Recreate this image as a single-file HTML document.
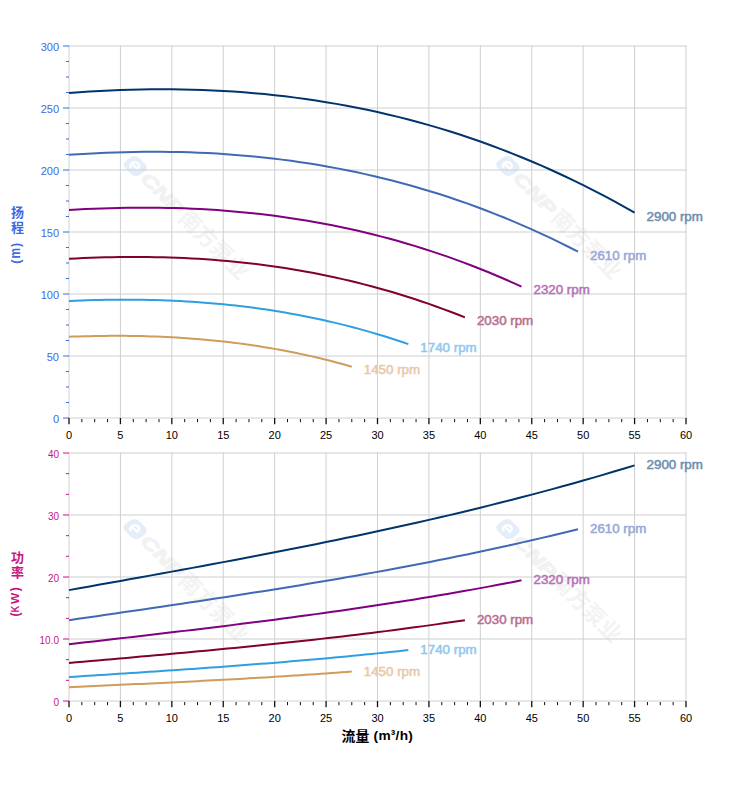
<!DOCTYPE html>
<html><head><meta charset="utf-8"><title>Pump curves</title>
<style>html,body{margin:0;padding:0;background:#fff;}body{width:752px;height:797px;overflow:hidden;}svg{display:block;}text{font-family:"Liberation Sans","Noto Sans CJK SC",sans-serif;}</style></head><body>
<svg width="752" height="797" viewBox="0 0 752 797">
<rect width="752" height="797" fill="#fff"/>
<g transform="translate(135.2 166.2) rotate(45)"><g transform="skewX(-10)"><rect x="-10" y="-8.5" width="20" height="17" rx="5.5" fill="#e4eef9"/><path d="M-4.5 0.5H3.5A4 4 0 1 0 -0.5 4.2" fill="none" stroke="#fff" stroke-width="2.2"/></g><text x="12.5" y="6.2" font-size="17.5" font-weight="bold" font-style="italic" fill="#f2f2f2" stroke="#f2f2f2" stroke-width="1.1" textLength="52" lengthAdjust="spacingAndGlyphs">CNP</text><text x="67 89 111 133" y="7.5" font-size="22" font-weight="bold" fill="#f3f3f3">南方泵业</text></g>
<g transform="translate(507.9 166) rotate(45)"><g transform="skewX(-10)"><rect x="-10" y="-8.5" width="20" height="17" rx="5.5" fill="#e4eef9"/><path d="M-4.5 0.5H3.5A4 4 0 1 0 -0.5 4.2" fill="none" stroke="#fff" stroke-width="2.2"/></g><text x="12.5" y="6.2" font-size="17.5" font-weight="bold" font-style="italic" fill="#f2f2f2" stroke="#f2f2f2" stroke-width="1.1" textLength="52" lengthAdjust="spacingAndGlyphs">CNP</text><text x="67 89 111 133" y="7.5" font-size="22" font-weight="bold" fill="#f3f3f3">南方泵业</text></g>
<g stroke="#cfcfcf" stroke-width="1" fill="none"><path d="M69 45.5V418.5"/><path d="M120.42 45.5V418.5"/><path d="M171.83 45.5V418.5"/><path d="M223.25 45.5V418.5"/><path d="M274.67 45.5V418.5"/><path d="M326.08 45.5V418.5"/><path d="M377.5 45.5V418.5"/><path d="M428.92 45.5V418.5"/><path d="M480.33 45.5V418.5"/><path d="M531.75 45.5V418.5"/><path d="M583.17 45.5V418.5"/><path d="M634.58 45.5V418.5"/><path d="M686 45.5V418.5"/><path d="M68.5 418H686.5"/><path d="M68.5 356H686.5"/><path d="M68.5 294H686.5"/><path d="M68.5 232H686.5"/><path d="M68.5 170H686.5"/><path d="M68.5 108H686.5"/><path d="M68.5 46H686.5"/></g>
<g stroke="#4169e1" stroke-width="1"><path d="M63 418H69"/><path d="M66 402.5H69"/><path d="M66 387H69"/><path d="M66 371.5H69"/><path d="M63 356H69"/><path d="M66 340.5H69"/><path d="M66 325H69"/><path d="M66 309.5H69"/><path d="M63 294H69"/><path d="M66 278.5H69"/><path d="M66 263H69"/><path d="M66 247.5H69"/><path d="M63 232H69"/><path d="M66 216.5H69"/><path d="M66 201H69"/><path d="M66 185.5H69"/><path d="M63 170H69"/><path d="M66 154.5H69"/><path d="M66 139H69"/><path d="M66 123.5H69"/><path d="M63 108H69"/><path d="M66 92.5H69"/><path d="M66 77H69"/><path d="M66 61.5H69"/><path d="M63 46H69"/></g>
<text x="59" y="422.5" text-anchor="end" font-size="11" fill="#4169e1">0</text>
<text x="59" y="360.5" text-anchor="end" font-size="11" fill="#4169e1">50</text>
<text x="59" y="298.5" text-anchor="end" font-size="11" fill="#4169e1">100</text>
<text x="59" y="236.5" text-anchor="end" font-size="11" fill="#4169e1">150</text>
<text x="59" y="174.5" text-anchor="end" font-size="11" fill="#4169e1">200</text>
<text x="59" y="112.5" text-anchor="end" font-size="11" fill="#4169e1">250</text>
<text x="59" y="50.5" text-anchor="end" font-size="11" fill="#4169e1">300</text>
<g stroke="#111" stroke-width="1"><path d="M69 418V424.2" stroke-width="1.3"/><path d="M81.85 419V422.2"/><path d="M94.71 419V422.2"/><path d="M107.56 419V422.2"/><path d="M120.42 418V424.2" stroke-width="1.3"/><path d="M133.27 419V422.2"/><path d="M146.12 419V422.2"/><path d="M158.98 419V422.2"/><path d="M171.83 418V424.2" stroke-width="1.3"/><path d="M184.69 419V422.2"/><path d="M197.54 419V422.2"/><path d="M210.4 419V422.2"/><path d="M223.25 418V424.2" stroke-width="1.3"/><path d="M236.1 419V422.2"/><path d="M248.96 419V422.2"/><path d="M261.81 419V422.2"/><path d="M274.67 418V424.2" stroke-width="1.3"/><path d="M287.52 419V422.2"/><path d="M300.38 419V422.2"/><path d="M313.23 419V422.2"/><path d="M326.08 418V424.2" stroke-width="1.3"/><path d="M338.94 419V422.2"/><path d="M351.79 419V422.2"/><path d="M364.65 419V422.2"/><path d="M377.5 418V424.2" stroke-width="1.3"/><path d="M390.35 419V422.2"/><path d="M403.21 419V422.2"/><path d="M416.06 419V422.2"/><path d="M428.92 418V424.2" stroke-width="1.3"/><path d="M441.77 419V422.2"/><path d="M454.62 419V422.2"/><path d="M467.48 419V422.2"/><path d="M480.33 418V424.2" stroke-width="1.3"/><path d="M493.19 419V422.2"/><path d="M506.04 419V422.2"/><path d="M518.9 419V422.2"/><path d="M531.75 418V424.2" stroke-width="1.3"/><path d="M544.6 419V422.2"/><path d="M557.46 419V422.2"/><path d="M570.31 419V422.2"/><path d="M583.17 418V424.2" stroke-width="1.3"/><path d="M596.02 419V422.2"/><path d="M608.88 419V422.2"/><path d="M621.73 419V422.2"/><path d="M634.58 418V424.2" stroke-width="1.3"/><path d="M647.44 419V422.2"/><path d="M660.29 419V422.2"/><path d="M673.15 419V422.2"/><path d="M686 418V424.2" stroke-width="1.3"/></g>
<text x="69" y="439.4" text-anchor="middle" font-size="11" fill="#000">0</text>
<text x="120.42" y="439.4" text-anchor="middle" font-size="11" fill="#000">5</text>
<text x="171.83" y="439.4" text-anchor="middle" font-size="11" fill="#000">10</text>
<text x="223.25" y="439.4" text-anchor="middle" font-size="11" fill="#000">15</text>
<text x="274.67" y="439.4" text-anchor="middle" font-size="11" fill="#000">20</text>
<text x="326.08" y="439.4" text-anchor="middle" font-size="11" fill="#000">25</text>
<text x="377.5" y="439.4" text-anchor="middle" font-size="11" fill="#000">30</text>
<text x="428.92" y="439.4" text-anchor="middle" font-size="11" fill="#000">35</text>
<text x="480.33" y="439.4" text-anchor="middle" font-size="11" fill="#000">40</text>
<text x="531.75" y="439.4" text-anchor="middle" font-size="11" fill="#000">45</text>
<text x="583.17" y="439.4" text-anchor="middle" font-size="11" fill="#000">50</text>
<text x="634.58" y="439.4" text-anchor="middle" font-size="11" fill="#000">55</text>
<text x="686" y="439.4" text-anchor="middle" font-size="11" fill="#000">60</text>
<path d="M69 93.05 L79.28 92.29 L89.57 91.62 L99.85 91.03 L110.13 90.52 L120.42 90.1 L130.7 89.77 L140.98 89.53 L151.27 89.37 L161.55 89.31 L171.83 89.35 L182.12 89.48 L192.4 89.7 L202.68 90.03 L212.97 90.45 L223.25 90.97 L233.53 91.6 L243.82 92.33 L254.1 93.17 L264.38 94.12 L274.67 95.17 L284.95 96.34 L295.23 97.62 L305.52 99.01 L315.8 100.52 L326.08 102.14 L336.37 103.88 L346.65 105.74 L356.93 107.72 L367.22 109.83 L377.5 112.06 L387.78 114.42 L398.07 116.9 L408.35 119.51 L418.63 122.26 L428.92 125.13 L439.2 128.14 L449.48 131.28 L459.77 134.56 L470.05 137.98 L480.33 141.54 L490.62 145.24 L500.9 149.08 L511.18 153.07 L521.47 157.2 L531.75 161.48 L542.03 165.91 L552.32 170.49 L562.6 175.22 L572.88 180.1 L583.17 185.14 L593.45 190.34 L603.73 195.7 L614.02 201.21 L624.3 206.88 L634.58 212.72" fill="none" stroke="#00356c" stroke-width="2" stroke-linejoin="round"/>
<text x="646.58" y="220.52" font-size="13.33" fill="#6e8fb0" stroke="#6e8fb0" stroke-width="0.55" stroke-linejoin="round">2900 rpm</text>
<path d="M69 154.79 L78.25 154.18 L87.51 153.63 L96.77 153.15 L106.02 152.74 L115.28 152.4 L124.53 152.13 L133.78 151.94 L143.04 151.81 L152.3 151.76 L161.55 151.79 L170.81 151.9 L180.06 152.08 L189.31 152.34 L198.57 152.68 L207.82 153.11 L217.08 153.62 L226.34 154.21 L235.59 154.89 L244.84 155.66 L254.1 156.51 L263.36 157.45 L272.61 158.49 L281.87 159.62 L291.12 160.84 L300.38 162.15 L309.63 163.56 L318.88 165.07 L328.14 166.68 L337.4 168.38 L346.65 170.19 L355.91 172.1 L365.16 174.11 L374.41 176.22 L383.67 178.45 L392.93 180.78 L402.18 183.21 L411.44 185.76 L420.69 188.42 L429.94 191.18 L439.2 194.07 L448.45 197.06 L457.71 200.18 L466.97 203.41 L476.22 206.75 L485.48 210.22 L494.73 213.81 L503.99 217.52 L513.24 221.35 L522.5 225.3 L531.75 229.39 L541 233.6 L550.26 237.93 L559.52 242.4 L568.77 247 L578.02 251.73" fill="none" stroke="#4169b4" stroke-width="2" stroke-linejoin="round"/>
<text x="590.02" y="259.53" font-size="13.33" fill="#99a8d9" stroke="#99a8d9" stroke-width="0.55" stroke-linejoin="round">2610 rpm</text>
<path d="M69 210.03 L77.23 209.55 L85.45 209.12 L93.68 208.74 L101.91 208.42 L110.13 208.15 L118.36 207.93 L126.59 207.78 L134.81 207.68 L143.04 207.64 L151.27 207.66 L159.49 207.74 L167.72 207.89 L175.95 208.1 L184.17 208.37 L192.4 208.7 L200.63 209.11 L208.85 209.57 L217.08 210.11 L225.31 210.72 L233.53 211.39 L241.76 212.14 L249.99 212.95 L258.21 213.85 L266.44 214.81 L274.67 215.85 L282.89 216.96 L291.12 218.15 L299.35 219.42 L307.57 220.77 L315.8 222.2 L324.03 223.71 L332.25 225.3 L340.48 226.97 L348.71 228.72 L356.93 230.56 L365.16 232.49 L373.39 234.5 L381.61 236.6 L389.84 238.79 L398.07 241.07 L406.29 243.43 L414.52 245.89 L422.75 248.44 L430.97 251.09 L439.2 253.83 L447.43 256.66 L455.65 259.59 L463.88 262.62 L472.11 265.75 L480.33 268.97 L488.56 272.3 L496.79 275.72 L505.01 279.25 L513.24 282.89 L521.47 286.62" fill="none" stroke="#800080" stroke-width="2" stroke-linejoin="round"/>
<text x="533.47" y="294.42" font-size="13.33" fill="#b871b8" stroke="#b871b8" stroke-width="0.55" stroke-linejoin="round">2320 rpm</text>
<path d="M69 258.77 L76.2 258.4 L83.4 258.07 L90.59 257.78 L97.79 257.54 L104.99 257.33 L112.19 257.17 L119.39 257.05 L126.59 256.97 L133.78 256.94 L140.98 256.96 L148.18 257.02 L155.38 257.13 L162.58 257.29 L169.78 257.5 L176.97 257.76 L184.17 258.06 L191.37 258.42 L198.57 258.83 L205.77 259.3 L212.97 259.82 L220.16 260.39 L227.36 261.01 L234.56 261.69 L241.76 262.43 L248.96 263.23 L256.16 264.08 L263.36 264.99 L270.55 265.97 L277.75 267 L284.95 268.09 L292.15 269.24 L299.35 270.46 L306.54 271.74 L313.74 273.09 L320.94 274.49 L328.14 275.97 L335.34 277.51 L342.54 279.12 L349.73 280.79 L356.93 282.53 L364.13 284.35 L371.33 286.23 L378.53 288.18 L385.73 290.21 L392.92 292.31 L400.12 294.48 L407.32 296.72 L414.52 299.04 L421.72 301.43 L428.92 303.9 L436.11 306.45 L443.31 309.07 L450.51 311.77 L457.71 314.55 L464.91 317.41" fill="none" stroke="#800032" stroke-width="2" stroke-linejoin="round"/>
<text x="476.91" y="325.21" font-size="13.33" fill="#b86f8f" stroke="#b86f8f" stroke-width="0.55" stroke-linejoin="round">2030 rpm</text>
<path d="M69 301.02 L75.17 300.75 L81.34 300.5 L87.51 300.29 L93.68 300.11 L99.85 299.96 L106.02 299.84 L112.19 299.75 L118.36 299.69 L124.53 299.67 L130.7 299.69 L136.87 299.73 L143.04 299.81 L149.21 299.93 L155.38 300.08 L161.55 300.27 L167.72 300.5 L173.89 300.76 L180.06 301.06 L186.23 301.4 L192.4 301.78 L198.57 302.2 L204.74 302.66 L210.91 303.16 L217.08 303.71 L223.25 304.29 L229.42 304.92 L235.59 305.59 L241.76 306.3 L247.93 307.06 L254.1 307.86 L260.27 308.71 L266.44 309.6 L272.61 310.54 L278.78 311.53 L284.95 312.57 L291.12 313.65 L297.29 314.78 L303.46 315.96 L309.63 317.19 L315.8 318.47 L321.97 319.81 L328.14 321.19 L334.31 322.62 L340.48 324.11 L346.65 325.65 L352.82 327.25 L358.99 328.9 L365.16 330.6 L371.33 332.36 L377.5 334.17 L383.67 336.04 L389.84 337.97 L396.01 339.96 L402.18 342 L408.35 344.1" fill="none" stroke="#2e9fe0" stroke-width="2" stroke-linejoin="round"/>
<text x="420.35" y="351.9" font-size="13.33" fill="#8fc9f1" stroke="#8fc9f1" stroke-width="0.55" stroke-linejoin="round">1740 rpm</text>
<path d="M69 336.76 L74.14 336.57 L79.28 336.41 L84.42 336.26 L89.57 336.13 L94.71 336.03 L99.85 335.94 L104.99 335.88 L110.13 335.84 L115.28 335.83 L120.42 335.84 L125.56 335.87 L130.7 335.93 L135.84 336.01 L140.98 336.11 L146.12 336.24 L151.27 336.4 L156.41 336.58 L161.55 336.79 L166.69 337.03 L171.83 337.29 L176.97 337.58 L182.12 337.9 L187.26 338.25 L192.4 338.63 L197.54 339.03 L202.68 339.47 L207.82 339.94 L212.97 340.43 L218.11 340.96 L223.25 341.52 L228.39 342.1 L233.53 342.72 L238.68 343.38 L243.82 344.06 L248.96 344.78 L254.1 345.53 L259.24 346.32 L264.38 347.14 L269.52 348 L274.67 348.88 L279.81 349.81 L284.95 350.77 L290.09 351.77 L295.23 352.8 L300.38 353.87 L305.52 354.98 L310.66 356.12 L315.8 357.3 L320.94 358.53 L326.08 359.79 L331.23 361.09 L336.37 362.42 L341.51 363.8 L346.65 365.22 L351.79 366.68" fill="none" stroke="#d09c5c" stroke-width="2" stroke-linejoin="round"/>
<text x="363.79" y="374.48" font-size="13.33" fill="#e9c9a9" stroke="#e9c9a9" stroke-width="0.55" stroke-linejoin="round">1450 rpm</text>
<g transform="translate(135.2 529.1) rotate(45)"><g transform="skewX(-10)"><rect x="-10" y="-8.5" width="20" height="17" rx="5.5" fill="#e4eef9"/><path d="M-4.5 0.5H3.5A4 4 0 1 0 -0.5 4.2" fill="none" stroke="#fff" stroke-width="2.2"/></g><text x="12.5" y="6.2" font-size="17.5" font-weight="bold" font-style="italic" fill="#f2f2f2" stroke="#f2f2f2" stroke-width="1.1" textLength="52" lengthAdjust="spacingAndGlyphs">CNP</text><text x="67 89 111 133" y="7.5" font-size="22" font-weight="bold" fill="#f3f3f3">南方泵业</text></g>
<g transform="translate(507.9 529.1) rotate(45)"><g transform="skewX(-10)"><rect x="-10" y="-8.5" width="20" height="17" rx="5.5" fill="#e4eef9"/><path d="M-4.5 0.5H3.5A4 4 0 1 0 -0.5 4.2" fill="none" stroke="#fff" stroke-width="2.2"/></g><text x="12.5" y="6.2" font-size="17.5" font-weight="bold" font-style="italic" fill="#f2f2f2" stroke="#f2f2f2" stroke-width="1.1" textLength="52" lengthAdjust="spacingAndGlyphs">CNP</text><text x="67 89 111 133" y="7.5" font-size="22" font-weight="bold" fill="#f3f3f3">南方泵业</text></g>
<g stroke="#cfcfcf" stroke-width="1" fill="none"><path d="M69 452.5V701.5"/><path d="M120.42 452.5V701.5"/><path d="M171.83 452.5V701.5"/><path d="M223.25 452.5V701.5"/><path d="M274.67 452.5V701.5"/><path d="M326.08 452.5V701.5"/><path d="M377.5 452.5V701.5"/><path d="M428.92 452.5V701.5"/><path d="M480.33 452.5V701.5"/><path d="M531.75 452.5V701.5"/><path d="M583.17 452.5V701.5"/><path d="M634.58 452.5V701.5"/><path d="M686 452.5V701.5"/><path d="M68.5 701H686.5"/><path d="M68.5 639H686.5"/><path d="M68.5 577H686.5"/><path d="M68.5 515H686.5"/><path d="M68.5 453H686.5"/></g>
<g stroke="#c71585" stroke-width="1"><path d="M63 701H69"/><path d="M66 680.33H69"/><path d="M66 659.67H69"/><path d="M63 639H69"/><path d="M66 618.33H69"/><path d="M66 597.67H69"/><path d="M63 577H69"/><path d="M66 556.33H69"/><path d="M66 535.67H69"/><path d="M63 515H69"/><path d="M66 494.33H69"/><path d="M66 473.67H69"/><path d="M63 453H69"/></g>
<text x="59" y="706.2" text-anchor="end" font-size="10" fill="#c71585">0</text>
<text x="59" y="644.2" text-anchor="end" font-size="10" fill="#c71585">10.0</text>
<text x="59" y="582.2" text-anchor="end" font-size="10" fill="#c71585">20</text>
<text x="59" y="520.2" text-anchor="end" font-size="10" fill="#c71585">30</text>
<text x="59" y="458.2" text-anchor="end" font-size="10" fill="#c71585">40</text>
<g stroke="#111" stroke-width="1"><path d="M69 701V707.2" stroke-width="1.3"/><path d="M81.85 702V705.2"/><path d="M94.71 702V705.2"/><path d="M107.56 702V705.2"/><path d="M120.42 701V707.2" stroke-width="1.3"/><path d="M133.27 702V705.2"/><path d="M146.12 702V705.2"/><path d="M158.98 702V705.2"/><path d="M171.83 701V707.2" stroke-width="1.3"/><path d="M184.69 702V705.2"/><path d="M197.54 702V705.2"/><path d="M210.4 702V705.2"/><path d="M223.25 701V707.2" stroke-width="1.3"/><path d="M236.1 702V705.2"/><path d="M248.96 702V705.2"/><path d="M261.81 702V705.2"/><path d="M274.67 701V707.2" stroke-width="1.3"/><path d="M287.52 702V705.2"/><path d="M300.38 702V705.2"/><path d="M313.23 702V705.2"/><path d="M326.08 701V707.2" stroke-width="1.3"/><path d="M338.94 702V705.2"/><path d="M351.79 702V705.2"/><path d="M364.65 702V705.2"/><path d="M377.5 701V707.2" stroke-width="1.3"/><path d="M390.35 702V705.2"/><path d="M403.21 702V705.2"/><path d="M416.06 702V705.2"/><path d="M428.92 701V707.2" stroke-width="1.3"/><path d="M441.77 702V705.2"/><path d="M454.62 702V705.2"/><path d="M467.48 702V705.2"/><path d="M480.33 701V707.2" stroke-width="1.3"/><path d="M493.19 702V705.2"/><path d="M506.04 702V705.2"/><path d="M518.9 702V705.2"/><path d="M531.75 701V707.2" stroke-width="1.3"/><path d="M544.6 702V705.2"/><path d="M557.46 702V705.2"/><path d="M570.31 702V705.2"/><path d="M583.17 701V707.2" stroke-width="1.3"/><path d="M596.02 702V705.2"/><path d="M608.88 702V705.2"/><path d="M621.73 702V705.2"/><path d="M634.58 701V707.2" stroke-width="1.3"/><path d="M647.44 702V705.2"/><path d="M660.29 702V705.2"/><path d="M673.15 702V705.2"/><path d="M686 701V707.2" stroke-width="1.3"/></g>
<text x="69" y="722.4" text-anchor="middle" font-size="11" fill="#000">0</text>
<text x="120.42" y="722.4" text-anchor="middle" font-size="11" fill="#000">5</text>
<text x="171.83" y="722.4" text-anchor="middle" font-size="11" fill="#000">10</text>
<text x="223.25" y="722.4" text-anchor="middle" font-size="11" fill="#000">15</text>
<text x="274.67" y="722.4" text-anchor="middle" font-size="11" fill="#000">20</text>
<text x="326.08" y="722.4" text-anchor="middle" font-size="11" fill="#000">25</text>
<text x="377.5" y="722.4" text-anchor="middle" font-size="11" fill="#000">30</text>
<text x="428.92" y="722.4" text-anchor="middle" font-size="11" fill="#000">35</text>
<text x="480.33" y="722.4" text-anchor="middle" font-size="11" fill="#000">40</text>
<text x="531.75" y="722.4" text-anchor="middle" font-size="11" fill="#000">45</text>
<text x="583.17" y="722.4" text-anchor="middle" font-size="11" fill="#000">50</text>
<text x="634.58" y="722.4" text-anchor="middle" font-size="11" fill="#000">55</text>
<text x="686" y="722.4" text-anchor="middle" font-size="11" fill="#000">60</text>
<path d="M69 590.11 L79.28 588.27 L89.57 586.44 L99.85 584.6 L110.13 582.76 L120.42 580.91 L130.7 579.06 L140.98 577.21 L151.27 575.36 L161.55 573.49 L171.83 571.62 L182.12 569.74 L192.4 567.86 L202.68 565.96 L212.97 564.05 L223.25 562.13 L233.53 560.2 L243.82 558.25 L254.1 556.29 L264.38 554.31 L274.67 552.32 L284.95 550.31 L295.23 548.29 L305.52 546.24 L315.8 544.17 L326.08 542.09 L336.37 539.98 L346.65 537.85 L356.93 535.69 L367.22 533.51 L377.5 531.31 L387.78 529.08 L398.07 526.82 L408.35 524.54 L418.63 522.22 L428.92 519.88 L439.2 517.5 L449.48 515.1 L459.77 512.66 L470.05 510.19 L480.33 507.68 L490.62 505.14 L500.9 502.56 L511.18 499.95 L521.47 497.29 L531.75 494.6 L542.03 491.87 L552.32 489.1 L562.6 486.29 L572.88 483.43 L583.17 480.53 L593.45 477.59 L603.73 474.6 L614.02 471.57 L624.3 468.49 L634.58 465.36" fill="none" stroke="#00356c" stroke-width="2" stroke-linejoin="round"/>
<text x="646.58" y="469.36" font-size="13.33" fill="#6e8fb0" stroke="#6e8fb0" stroke-width="0.55" stroke-linejoin="round">2900 rpm</text>
<path d="M69 620.16 L78.25 618.82 L87.51 617.48 L96.77 616.14 L106.02 614.8 L115.28 613.46 L124.53 612.11 L133.78 610.76 L143.04 609.41 L152.3 608.05 L161.55 606.68 L170.81 605.31 L180.06 603.94 L189.31 602.55 L198.57 601.16 L207.82 599.76 L217.08 598.36 L226.34 596.94 L235.59 595.51 L244.84 594.07 L254.1 592.61 L263.36 591.15 L272.61 589.67 L281.87 588.18 L291.12 586.67 L300.38 585.15 L309.63 583.61 L318.88 582.06 L328.14 580.49 L337.4 578.9 L346.65 577.3 L355.91 575.67 L365.16 574.02 L374.41 572.36 L383.67 570.67 L392.93 568.96 L402.18 567.23 L411.44 565.48 L420.69 563.7 L429.94 561.9 L439.2 560.07 L448.45 558.22 L457.71 556.34 L466.97 554.43 L476.22 552.5 L485.48 550.54 L494.73 548.55 L503.99 546.53 L513.24 544.47 L522.5 542.39 L531.75 540.28 L541 538.13 L550.26 535.96 L559.52 533.74 L568.77 531.5 L578.02 529.22" fill="none" stroke="#4169b4" stroke-width="2" stroke-linejoin="round"/>
<text x="590.02" y="533.22" font-size="13.33" fill="#99a8d9" stroke="#99a8d9" stroke-width="0.55" stroke-linejoin="round">2610 rpm</text>
<path d="M69 644.23 L77.23 643.28 L85.45 642.34 L93.68 641.4 L101.91 640.46 L110.13 639.51 L118.36 638.57 L126.59 637.62 L134.81 636.67 L143.04 635.72 L151.27 634.76 L159.49 633.8 L167.72 632.83 L175.95 631.86 L184.17 630.88 L192.4 629.9 L200.63 628.91 L208.85 627.91 L217.08 626.91 L225.31 625.9 L233.53 624.88 L241.76 623.85 L249.99 622.81 L258.21 621.76 L266.44 620.7 L274.67 619.64 L282.89 618.56 L291.12 617.47 L299.35 616.36 L307.57 615.25 L315.8 614.12 L324.03 612.98 L332.25 611.82 L340.48 610.65 L348.71 609.47 L356.93 608.27 L365.16 607.05 L373.39 605.82 L381.61 604.57 L389.84 603.3 L398.07 602.02 L406.29 600.72 L414.52 599.4 L422.75 598.06 L430.97 596.7 L439.2 595.32 L447.43 593.93 L455.65 592.51 L463.88 591.07 L472.11 589.61 L480.33 588.12 L488.56 586.61 L496.79 585.08 L505.01 583.53 L513.24 581.95 L521.47 580.35" fill="none" stroke="#800080" stroke-width="2" stroke-linejoin="round"/>
<text x="533.47" y="584.35" font-size="13.33" fill="#b871b8" stroke="#b871b8" stroke-width="0.55" stroke-linejoin="round">2320 rpm</text>
<path d="M69 662.97 L76.2 662.33 L83.4 661.7 L90.59 661.07 L97.79 660.44 L104.99 659.81 L112.19 659.18 L119.39 658.54 L126.59 657.9 L133.78 657.27 L140.98 656.62 L148.18 655.98 L155.38 655.33 L162.58 654.68 L169.78 654.03 L176.97 653.37 L184.17 652.7 L191.37 652.04 L198.57 651.36 L205.77 650.69 L212.97 650 L220.16 649.31 L227.36 648.62 L234.56 647.92 L241.76 647.21 L248.96 646.49 L256.16 645.77 L263.36 645.04 L270.55 644.3 L277.75 643.55 L284.95 642.8 L292.15 642.03 L299.35 641.26 L306.54 640.47 L313.74 639.68 L320.94 638.88 L328.14 638.06 L335.34 637.24 L342.54 636.4 L349.73 635.55 L356.93 634.69 L364.13 633.82 L371.33 632.94 L378.53 632.04 L385.73 631.13 L392.92 630.21 L400.12 629.27 L407.32 628.32 L414.52 627.35 L421.72 626.37 L428.92 625.38 L436.11 624.37 L443.31 623.35 L450.51 622.31 L457.71 621.25 L464.91 620.18" fill="none" stroke="#800032" stroke-width="2" stroke-linejoin="round"/>
<text x="476.91" y="624.18" font-size="13.33" fill="#b86f8f" stroke="#b86f8f" stroke-width="0.55" stroke-linejoin="round">2030 rpm</text>
<path d="M69 677.05 L75.17 676.65 L81.34 676.25 L87.51 675.86 L93.68 675.46 L99.85 675.06 L106.02 674.66 L112.19 674.26 L118.36 673.86 L124.53 673.46 L130.7 673.05 L136.87 672.65 L143.04 672.24 L149.21 671.83 L155.38 671.42 L161.55 671 L167.72 670.59 L173.89 670.17 L180.06 669.74 L186.23 669.32 L192.4 668.89 L198.57 668.45 L204.74 668.01 L210.91 667.57 L217.08 667.13 L223.25 666.67 L229.42 666.22 L235.59 665.76 L241.76 665.29 L247.93 664.82 L254.1 664.35 L260.27 663.87 L266.44 663.38 L272.61 662.88 L278.78 662.38 L284.95 661.88 L291.12 661.36 L297.29 660.85 L303.46 660.32 L309.63 659.78 L315.8 659.24 L321.97 658.69 L328.14 658.14 L334.31 657.57 L340.48 657 L346.65 656.42 L352.82 655.83 L358.99 655.23 L365.16 654.62 L371.33 654.01 L377.5 653.38 L383.67 652.74 L389.84 652.1 L396.01 651.44 L402.18 650.78 L408.35 650.1" fill="none" stroke="#2e9fe0" stroke-width="2" stroke-linejoin="round"/>
<text x="420.35" y="654.1" font-size="13.33" fill="#8fc9f1" stroke="#8fc9f1" stroke-width="0.55" stroke-linejoin="round">1740 rpm</text>
<path d="M69 687.14 L74.14 686.91 L79.28 686.68 L84.42 686.45 L89.57 686.22 L94.71 685.99 L99.85 685.76 L104.99 685.53 L110.13 685.29 L115.28 685.06 L120.42 684.83 L125.56 684.59 L130.7 684.36 L135.84 684.12 L140.98 683.88 L146.12 683.64 L151.27 683.4 L156.41 683.16 L161.55 682.91 L166.69 682.66 L171.83 682.42 L176.97 682.16 L182.12 681.91 L187.26 681.65 L192.4 681.4 L197.54 681.14 L202.68 680.87 L207.82 680.61 L212.97 680.34 L218.11 680.06 L223.25 679.79 L228.39 679.51 L233.53 679.23 L238.68 678.94 L243.82 678.65 L248.96 678.36 L254.1 678.06 L259.24 677.76 L264.38 677.46 L269.52 677.15 L274.67 676.84 L279.81 676.52 L284.95 676.2 L290.09 675.87 L295.23 675.54 L300.38 675.2 L305.52 674.86 L310.66 674.51 L315.8 674.16 L320.94 673.8 L326.08 673.44 L331.23 673.07 L336.37 672.7 L341.51 672.32 L346.65 671.94 L351.79 671.54" fill="none" stroke="#d09c5c" stroke-width="2" stroke-linejoin="round"/>
<text x="363.79" y="675.54" font-size="13.33" fill="#e9c9a9" stroke="#e9c9a9" stroke-width="0.55" stroke-linejoin="round">1450 rpm</text>
<text x="11" y="217" font-size="13" font-weight="bold" fill="#4169e1">扬</text>
<text x="11" y="232" font-size="13" font-weight="bold" fill="#4169e1">程</text>
<g transform="translate(20 263.8) rotate(-90)" font-weight="bold" fill="#4169e1"><text x="0" y="0" font-size="12.5">(</text><text x="5.3" y="0" font-size="14.5" textLength="10.6" lengthAdjust="spacingAndGlyphs">m</text><text x="16.9" y="0" font-size="12.5">)</text></g>
<text x="11" y="562" font-size="13" font-weight="bold" fill="#c71585">功</text>
<text x="11" y="577" font-size="13" font-weight="bold" fill="#c71585">率</text>
<g transform="translate(19 616.4) rotate(-90)" font-weight="bold" fill="#c71585"><text x="0" y="0" font-size="12">(</text><text x="3.8" y="0" font-size="11.3" textLength="6.9" lengthAdjust="spacingAndGlyphs">K</text><text x="12.3" y="0" font-size="11.3" textLength="11.2" lengthAdjust="spacingAndGlyphs">W</text><text x="25.2" y="0" font-size="12">)</text></g>
<text x="341.6 355.5" y="741.4" font-size="13.9" font-weight="bold" fill="#000">流量</text>
<text x="373.6" y="740.4" font-size="13.7" font-weight="bold" fill="#000" textLength="39.2" lengthAdjust="spacing">(m³/h)</text>
</svg></body></html>
